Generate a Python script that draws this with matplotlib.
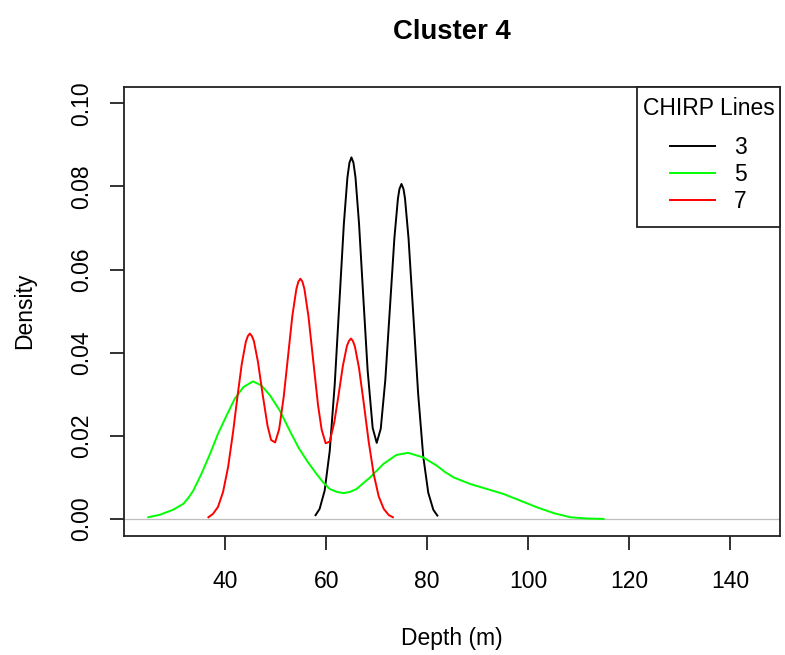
import matplotlib
matplotlib.use("Agg")
import matplotlib.pyplot as plt
from matplotlib.patches import Rectangle

plt.rcParams["font.family"] = ["Liberation Sans", "DejaVu Sans"]

# density curves (depth in m, density)
line3_x = [57.9, 58.7, 59.7, 60.7, 61.7, 62.7, 63.5, 64.2, 64.6, 65.0,
           65.4, 65.8, 66.5, 67.3, 68.2, 69.2, 70.0, 70.8, 71.7, 72.7,
           73.5, 74.2, 74.5, 74.9, 75.3, 75.6, 76.3, 77.2, 78.2, 79.2,
           80.2, 81.2, 82.0]
line3_y = [0.0009, 0.0024, 0.0068, 0.0163, 0.0325, 0.0539, 0.0710, 0.0821, 0.0857, 0.0870,
           0.0857, 0.0822, 0.0711, 0.0543, 0.0358, 0.0219, 0.0183, 0.0217, 0.0334, 0.0524,
           0.0676, 0.0771, 0.0794, 0.0806, 0.0794, 0.0771, 0.0675, 0.0499, 0.0301, 0.0151,
           0.0063, 0.0022, 0.0008]

line5_x = [24.8, 27.1, 29.7, 31.7, 32.7, 33.7, 35.3, 37.0, 38.6, 40.3,
           41.9, 43.6, 45.5, 47.2, 48.9, 50.8, 52.8, 54.6, 56.3, 58.1,
           59.4, 60.7, 62.1, 63.4, 64.7, 66.0, 68.7, 71.3, 73.9, 76.2,
           79.2, 81.9, 83.5, 85.2, 88.5, 91.8, 95.1, 98.4, 101.7, 105.0,
           108.3, 111.6, 114.9]
line5_y = [0.0004, 0.0010, 0.0022, 0.0036, 0.0050, 0.0068, 0.0108, 0.0156, 0.0205, 0.0249,
           0.0289, 0.0317, 0.0331, 0.0321, 0.0297, 0.0261, 0.0212, 0.0170, 0.0138, 0.0108,
           0.0088, 0.0072, 0.0065, 0.0062, 0.0065, 0.0072, 0.0100, 0.0132, 0.0154, 0.0159,
           0.0148, 0.0128, 0.0113, 0.0100, 0.0084, 0.0072, 0.0060, 0.0044, 0.0028, 0.0014,
           0.0004, 0.0001, 0.0000]

line7_x = [36.7, 37.6, 38.6, 39.6, 40.6, 41.6, 42.4, 43.3, 44.1, 44.5,
           44.9, 45.3, 45.7, 46.5, 47.4, 48.4, 49.1, 49.9, 50.7, 51.6,
           52.4, 53.3, 54.1, 54.5, 54.9, 55.3, 55.7, 56.5, 57.4, 58.4,
           59.1, 59.9, 60.7, 61.6, 62.4, 63.3, 64.1, 64.5, 64.9, 65.3,
           65.7, 66.5, 67.4, 68.4, 69.4, 70.4, 71.4, 72.4, 73.2]
line7_y = [0.0004, 0.0012, 0.0029, 0.0065, 0.0125, 0.0211, 0.0290, 0.0373, 0.0426, 0.0440,
           0.0446, 0.0440, 0.0428, 0.0378, 0.0302, 0.0224, 0.0190, 0.0184, 0.0216, 0.0294,
           0.0385, 0.0488, 0.0553, 0.0571, 0.0578, 0.0571, 0.0553, 0.0487, 0.0385, 0.0273,
           0.0215, 0.0182, 0.0186, 0.0232, 0.0294, 0.0368, 0.0416, 0.0428, 0.0434, 0.0428,
           0.0414, 0.0363, 0.0282, 0.0187, 0.0108, 0.0054, 0.0024, 0.0009, 0.0004]

labels = ["3", "5", "7"]
colors = ["#000000", "#00FF00", "#FF0000"]
xticks = [40, 60, 80, 100, 120, 140]
yticks = [0.00, 0.02, 0.04, 0.06, 0.08, 0.10]

FS = 16.5
EDGE = "#222222"

fig = plt.figure(figsize=(7.85, 6.55), dpi=100)
ax = fig.add_axes([0.1583, 0.1824, 0.8347, 0.6852])

ax.plot(line3_x, line3_y, color=colors[0], lw=1.4, label=labels[0], zorder=2)
ax.axhline(0, color="#BEBEBE", lw=0.9, zorder=2.1)
ax.plot(line5_x, line5_y, color=colors[1], lw=1.4, label=labels[1], zorder=2.2)
ax.plot(line7_x, line7_y, color=colors[2], lw=1.4, label=labels[2], zorder=2.3)

ax.set_xlim(20.05, 149.7)
ax.set_ylim(-0.004, 0.104)
ax.set_xticks(xticks)
ax.set_yticks(yticks)
ax.set_xticklabels([str(t) for t in xticks])
ax.set_yticklabels([f"{t:.2f}" for t in yticks], rotation=90, va="center")
ax.tick_params(axis="both", direction="out", length=10, width=1.3,
               labelsize=FS, color=EDGE)
ax.tick_params(axis="x", pad=14.5)
ax.tick_params(axis="y", pad=12.5)
for spine in ax.spines.values():
    spine.set_linewidth(1.3)
    spine.set_color(EDGE)

ax.set_xlabel("Depth (m)", fontsize=FS, va="center")
ax.xaxis.set_label_coords(0.5, -0.2298)
ax.set_ylabel("Density", fontsize=FS, va="center")
ax.yaxis.set_label_coords(-0.1514, 0.5)
ax.set_title("Cluster 4", fontsize=19.8, fontweight="bold",
             y=1.1225, va="center", pad=0)

# legend box (R style: square frame flush with the top right corner)
ax.add_patch(Rectangle((0.782, 0.688), 0.218, 0.312, transform=ax.transAxes,
                       facecolor="white", edgecolor=EDGE, lw=1.3,
                       clip_on=False, zorder=3))
leg = ax.legend(loc="upper right", bbox_to_anchor=(1.003, 0.993), borderaxespad=0,
                title="CHIRP Lines", fontsize=FS, title_fontsize=FS,
                frameon=False, handlelength=1.96, handletextpad=0.83,
                labelspacing=0.17, borderpad=0.3)
leg.set_zorder(4)
leg._legend_box.sep = 11.6  # extra gap under the title, as in the R legend
for line in leg.get_lines():
    line.set_linewidth(1.4)

fig.savefig("out.png", dpi=100, facecolor="white")
